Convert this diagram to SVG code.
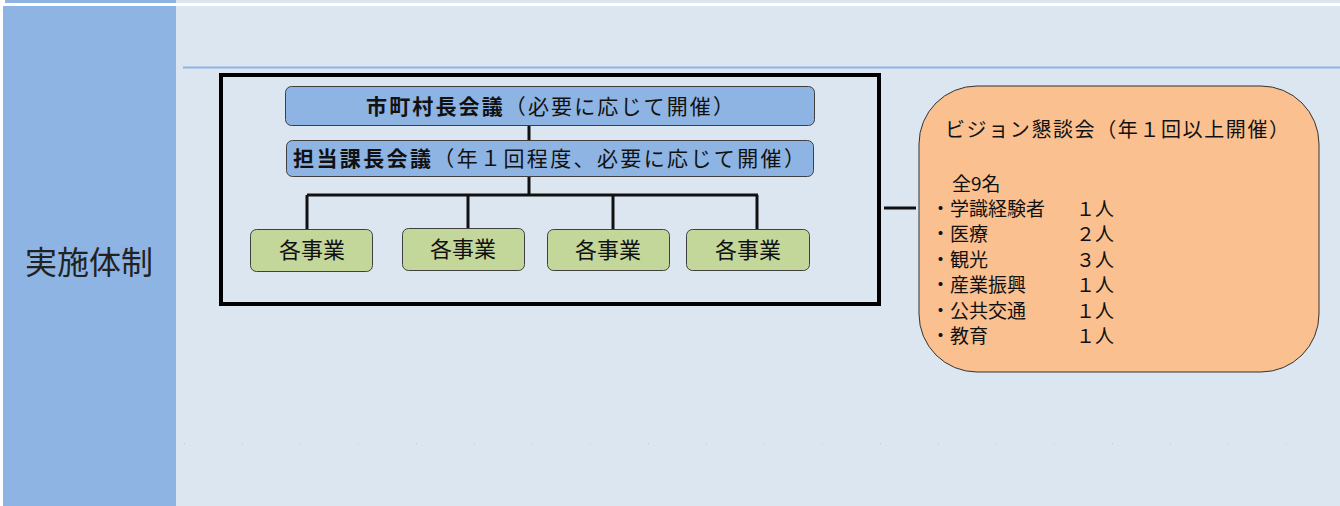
<svg xmlns="http://www.w3.org/2000/svg" width="1340" height="506" viewBox="0 0 1340 506">
<style>
.jp{font-family:"Noto Sans CJK JP","Noto Sans",sans-serif;fill:#111}
.blue{fill:#8EB4E3;stroke:#404040;stroke-width:1}
.green{fill:#C4D79B;stroke:#404040;stroke-width:1}
.conn{stroke:#111;stroke-width:3;fill:none}
</style>
<rect x="0" y="0" width="1340" height="506" fill="#FFFFFF"/>
<rect x="176" y="0" width="1164" height="3" fill="#DCE6F1"/>
<rect x="5" y="0" width="171" height="3" fill="#8EB4E3"/>
<rect x="176" y="6" width="1164" height="500" fill="#DCE6F1"/>
<rect x="3" y="6" width="173" height="500" fill="#8EB4E3"/>
<line x1="183" y1="67.5" x2="1340" y2="67.5" stroke="#8EB4E3" stroke-width="2"/>
<line x1="184" y1="443.5" x2="1340" y2="443.5" stroke="#C0C8D0" stroke-width="1" stroke-dasharray="1 57"/>
<text class="jp" x="89" y="274" font-size="32" text-anchor="middle" style="fill:#222">実施体制</text>
<g id="frame"><rect x="221" y="75" width="658" height="229" fill="none" stroke="#000" stroke-width="4"/></g>
<g id="connectors">
<line class="conn" x1="529" y1="125" x2="529" y2="140"/>
<line class="conn" x1="529" y1="176" x2="529" y2="196"/>
<line class="conn" x1="307" y1="195" x2="758" y2="195"/>
<line class="conn" x1="307" y1="195" x2="307" y2="229"/>
<line class="conn" x1="468" y1="195" x2="468" y2="229"/>
<line class="conn" x1="613" y1="195" x2="613" y2="229"/>
<line class="conn" x1="757" y1="195" x2="757" y2="229"/>
<line class="conn" x1="884" y1="208" x2="916" y2="208"/>
</g>
<g id="mayors">
<rect class="blue" x="285.5" y="86.5" width="529" height="39" rx="6"/>
<text class="jp" x="366" y="114" font-size="21" textLength="368" lengthAdjust="spacing"><tspan font-weight="bold">市町村長会議</tspan>（必要に応じて開催）</text>
</g>
<g id="section-chiefs">
<rect class="blue" x="286.5" y="140.5" width="527" height="36" rx="6"/>
<text class="jp" x="293" y="166" font-size="21" textLength="512" lengthAdjust="spacing"><tspan font-weight="bold">担当課長会議</tspan>（年１回程度、必要に応じて開催）</text>
</g>
<g id="project1"><rect class="green" x="250.5" y="229.5" width="122" height="42" rx="6"/><text class="jp" x="312" y="258" font-size="22" text-anchor="middle">各事業</text></g>
<g id="project2"><rect class="green" x="402.5" y="228.5" width="122" height="42" rx="6"/><text class="jp" x="463" y="257" font-size="22" text-anchor="middle">各事業</text></g>
<g id="project3"><rect class="green" x="547.5" y="229.5" width="122" height="41" rx="6"/><text class="jp" x="608" y="258" font-size="22" text-anchor="middle">各事業</text></g>
<g id="project4"><rect class="green" x="686.5" y="229.5" width="123" height="41" rx="6"/><text class="jp" x="748" y="258" font-size="22" text-anchor="middle">各事業</text></g>
<g id="vision">
<rect x="919" y="86" width="400" height="286" rx="58" fill="#FAC090" stroke="#333" stroke-width="1"/>
<text class="jp" x="945" y="137" font-size="20" textLength="344" lengthAdjust="spacing">ビジョン懇談会（年１回以上開催）</text>
<g class="jp" font-size="19">
<text x="952" y="191">全9名</text>
<text x="931" y="216">・学識経験者</text><text x="1076" y="216">１人</text>
<text x="931" y="241">・医療</text><text x="1076" y="241">２人</text>
<text x="931" y="267">・観光</text><text x="1076" y="267">３人</text>
<text x="931" y="292">・産業振興</text><text x="1076" y="292">１人</text>
<text x="931" y="318">・公共交通</text><text x="1076" y="318">１人</text>
<text x="931" y="343">・教育</text><text x="1076" y="343">１人</text>
</g>
</g>
</svg>
